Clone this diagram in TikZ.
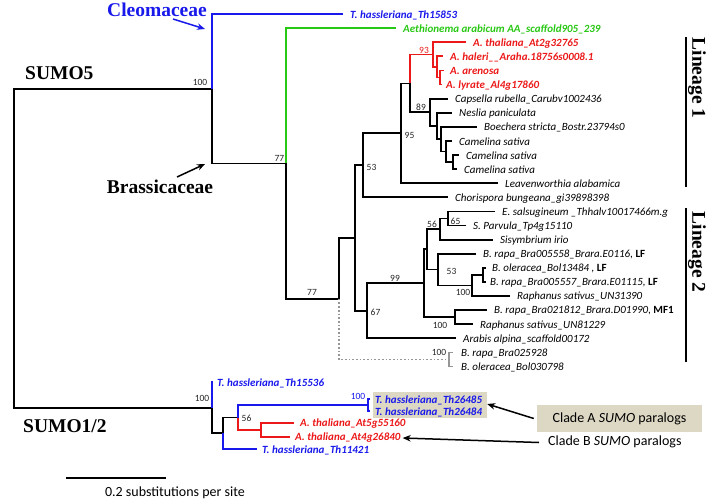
\documentclass[tikz,border=0pt]{standalone}
\usepackage{fontspec}
\setmainfont{Carlito}
\newfontfamily\serifb{Liberation Serif}
\usetikzlibrary{arrows.meta}
\definecolor{myblue}{RGB}{25,25,235}
\definecolor{myred}{RGB}{235,25,25}
\definecolor{mygreen}{RGB}{40,200,20}
\definecolor{mygrey}{RGB}{150,150,150}
\definecolor{boxc}{RGB}{221,216,196}
\begin{document}
\begin{tikzpicture}[x=1pt,y=-1pt,
  br/.style={line width=1.8pt, line join=miter},
  bb/.style={br, myblue},
  rr/.style={br, myred},
  gg/.style={br, mygreen},
  dotg/.style={line width=1.7pt, mygrey, dash pattern=on 1.7pt off 2pt},
  greyb/.style={line width=1.6pt, mygrey, line join=miter},
  lab/.style={anchor=west, inner sep=0pt, font=\fontsize{11}{12}\selectfont\itshape},
  blab/.style={lab, text=myblue, font=\fontsize{11}{12}\selectfont\itshape\bfseries},
  rlab/.style={lab, text=myred, font=\fontsize{11}{12}\selectfont\itshape\bfseries},
  glab/.style={lab, text=mygreen, font=\fontsize{11}{12}\selectfont\itshape\bfseries},
  sup/.style={inner sep=0.5pt, font=\fontsize{9.5}{11}\selectfont, text=black!85},
  big/.style={inner sep=0pt, font=\fontsize{19.5}{22}\selectfont\serifb\bfseries},
  arr/.style={line width=1.5pt, -{Stealth[length=8pt,width=6.5pt]}},
  bar/.style={line width=1.6pt}
]
\useasboundingbox (0,0) rectangle (709,501);

% ---------- leaves (line ends) ----------
\coordinate (l0) at (343,14);
\coordinate (l1) at (396,28.1);
\coordinate (l2) at (466,42.2);
\coordinate (l3) at (443,56.3);
\coordinate (l4) at (444,70.4);
\coordinate (l5) at (442,84.5);
\coordinate (l6) at (448,98.6);
\coordinate (l7) at (452,112.7);
\coordinate (l8) at (477,126.8);
\coordinate (l9) at (452,140.9);
\coordinate (l10) at (459,155);
\coordinate (l11) at (457,169.1);
\coordinate (l12) at (498,183.2);
\coordinate (l13) at (448,197.3);
\coordinate (l14) at (495,211.4);
\coordinate (l15) at (466,225.5);
\coordinate (l16) at (493,239.6);
\coordinate (l17) at (476,253.7);
\coordinate (l18) at (486,267.8);
\coordinate (l19) at (486,281.9);
\coordinate (l20) at (510,296);
\coordinate (l21) at (487,310.1);
\coordinate (l22) at (473,324.2);
\coordinate (l23) at (456,338.3);
\coordinate (l24) at (453,352.4);
\coordinate (l25) at (453,366.5);
% ---------- internal nodes ----------
\coordinate (Z) at (440,77.45);
\coordinate (Y) at (437,66.9);
\coordinate (X) at (433,54.55);
\coordinate (Nc2) at (453,162.05);
\coordinate (Nc) at (446,151.5);
\coordinate (Nb) at (441,139.15);
\coordinate (Nn) at (437,125.9);
\coordinate (N89) at (430,112.25);
\coordinate (NR) at (410,83.4);
\coordinate (N95) at (401,133.3);
\coordinate (N53) at (363,165.3);
\coordinate (N65) at (448,218.45);
\coordinate (N56) at (440,229);
\coordinate (NBo) at (483,274.85);
\coordinate (N100b) at (472,285.4);
\coordinate (N53b) at (438,269.55);
\coordinate (Nq) at (427,249.3);
\coordinate (N100d) at (455,317.15);
\coordinate (N99) at (424,283.2);
\coordinate (N67) at (367,310.75);
\coordinate (NL) at (355,238);
\coordinate (Ng) at (449,359.45);
\coordinate (N77b) at (339,298.7);
\coordinate (B) at (286,163.4);
\coordinate (S5) at (212,88.7);
% bottom
\coordinate (b0) at (213,382);
\coordinate (b1) at (370,399);
\coordinate (b2) at (370,411);
\coordinate (Nblue) at (368,405);
\coordinate (b3) at (294,423);
\coordinate (b4) at (290,437);
\coordinate (Nred) at (261,430);
\coordinate (N56b) at (238,417.5);
\coordinate (b5) at (257,449);
\coordinate (N223) at (223,433.25);
\coordinate (S12) at (212,407.6);
\coordinate (rt) at (14,248.2);

% ---------- branches ----------
\draw[br] (rt) |- (S5);
\draw[br] (rt) |- (S12);
\draw[bb] (S5) |- (l0);
\draw[br] (S5) |- (B);
\draw[gg] (B) |- (l1);
\draw[br] (B) |- (N77b);
\draw[br] (N77b) |- (NL);
\draw[dotg] (N77b) |- (Ng);
\draw[greyb] (Ng) |- (l24);
\draw[greyb] (Ng) |- (l25);
\draw[br] (NL) |- (N53);
\draw[br] (NL) |- (N67);
\draw[br] (N53) |- (N95);
\draw[br] (N53) |- (l13);
\draw[br] (N95) |- (NR);
\draw[br] (N95) |- (l12);
\draw[rr] (NR) |- (X);
\draw[br] (NR) |- (N89);
\draw[rr] (X) |- (l2);
\draw[rr] (X) |- (Y);
\draw[rr] (Y) |- (l3);
\draw[rr] (Y) |- (Z);
\draw[rr] (Z) |- (l4);
\draw[rr] (Z) |- (l5);
\draw[br] (N89) |- (l6);
\draw[br] (N89) |- (Nn);
\draw[br] (Nn) |- (l7);
\draw[br] (Nn) |- (Nb);
\draw[br] (Nb) |- (l8);
\draw[br] (Nb) |- (Nc);
\draw[br] (Nc) |- (l9);
\draw[br] (Nc) |- (Nc2);
\draw[br] (Nc2) |- (l10);
\draw[br] (Nc2) |- (l11);
\draw[br] (N67) |- (N99);
\draw[br] (N67) |- (l23);
\draw[br] (N99) |- (Nq);
\draw[br] (N99) |- (N100d);
\draw[br] (Nq) |- (N56);
\draw[br] (Nq) |- (N53b);
\draw[br] (N56) |- (N65);
\draw[br] (N56) |- (l16);
\draw[br] (N65) |- (l14);
\draw[br] (N65) |- (l15);
\draw[br] (N53b) |- (l17);
\draw[br] (N53b) |- (N100b);
\draw[br] (N100b) |- (NBo);
\draw[br] (N100b) |- (l20);
\draw[br] (NBo) |- (l18);
\draw[br] (NBo) |- (l19);
\draw[br] (N100d) |- (l21);
\draw[br] (N100d) |- (l22);
% bottom clade
\draw[bb] (S12) |- (b0);
\draw[br] (S12) |- (N223);
\draw[br] (N223) |- (N56b);
\draw[bb] (N223) |- (b5);
\draw[bb] (N56b) |- (Nblue);
\draw[rr] (N56b) |- (Nred);
\draw[bb] (Nblue) |- (b1);
\draw[bb] (Nblue) |- (b2);
\draw[rr] (Nred) |- (b3);
\draw[rr] (Nred) |- (b4);

% ---------- leaf labels ----------
\node[blab] (t0) at (350,15) {T. hassleriana\_Th15853};
\node[glab] (t1) at (403,29.1) {Aethionema arabicum AA\_scaffold905\_239};
\node[rlab] (t2) at (473,43.2) {A. thaliana\_At2g32765};
\node[rlab] (t3) at (450,57.3) {A. haleri\_\_Araha.18756s0008.1};
\node[rlab] (t4) at (450,71.4) {A. arenosa};
\node[rlab] (t5) at (446,85.5) {A. lyrate\_Al4g17860};
\node[lab] (t6) at (455,99.6) {Capsella rubella\_Carubv1002436};
\node[lab] (t7) at (459,113.7) {Neslia paniculata};
\node[lab] (t8) at (484,127.8) {Boechera stricta\_Bostr.23794s0};
\node[lab] (t9) at (459,141.9) {Camelina sativa};
\node[lab] (t10) at (466,156) {Camelina sativa};
\node[lab] (t11) at (464,170.1) {Camelina sativa};
\node[lab] (t12) at (505,184.2) {Leavenworthia alabamica};
\node[lab] (t13) at (455,198.3) {Chorispora bungeana\_gi39898398};
\node[lab] (t14) at (502,212.4) {E. salsugineum \_Thhalv10017466m.g};
\node[lab] (t15) at (473,226.5) {S. Parvula\_Tp4g15110};
\node[lab] (t16) at (500,240.6) {Sisymbrium irio};
\node[lab] (t17) at (483,254.7) {B. rapa\_Bra005558\_Brara.E0116, \upshape\bfseries LF};
\node[lab] (t18) at (492,268.8) {B. oleracea\_Bol13484 , \upshape\bfseries LF};
\node[lab] (t19) at (490,282.9) {B. rapa\_Bra005557\_Brara.E01115, \upshape\bfseries LF};
\node[lab] (t20) at (517,297) {Raphanus sativus\_UN31390};
\node[lab] (t21) at (494,311.1) {B. rapa\_Bra021812\_Brara.D01990, \upshape\bfseries MF1};
\node[lab] (t22) at (480,325.2) {Raphanus sativus\_UN81229};
\node[lab] (t23) at (463,339.3) {Arabis alpina\_scaffold00172};
\node[lab] (t24) at (461,353.4) {B. rapa\_Bra025928};
\node[lab] (t25) at (461,367.5) {B. oleracea\_Bol030798};

% bottom labels
\node[fill=boxc, minimum width=114pt, minimum height=26pt, inner sep=0pt] (thbox) at (430,405) {};
\node[blab] (tb0) at (217,383) {T. hassleriana\_Th15536};
\node[blab] (tb1) at (375,400) {T. hassleriana\_Th26485};
\node[blab] (tb2) at (375,412) {T. hassleriana\_Th26484};
\node[rlab] (tb3) at (300,424) {A. thaliana\_At5g55160};
\node[rlab] (tb4) at (295,438) {A. thaliana\_At4g26840};
\node[blab] (tb5) at (262,450) {T. hassleriana\_Th11421};

% ---------- support values ----------
\node[sup] (s1) at (200,82) {100};
\node[sup, anchor=south east] (s2) at (285,162) {77};
\node[sup] (s3) at (312,292) {77};
\node[sup, anchor=west] (s4) at (366,167.5) {53};
\node[sup, anchor=west] (s5) at (404,135.5) {95};
\node[sup, anchor=south, text=myred] (s6) at (424,54) {93};
\node[sup, anchor=south] (s7) at (421,111.5) {89};
\node[sup, anchor=south] (s8) at (432,228) {56};
\node[sup, anchor=south west] (s9) at (450,225) {65};
\node[sup, anchor=south] (s10) at (395,282.5) {99};
\node[sup, anchor=west] (s11) at (446,271) {53};
\node[sup, anchor=east] (s12) at (471,292) {100};
\node[sup, anchor=west] (s13) at (370,312.5) {67};
\node[sup] (s14) at (440,325) {100};
\node[sup] (s15) at (439,352) {100};
\node[sup] (s16) at (202,398) {100};
\node[sup, text=myblue] (s17) at (358,396) {100};
\node[sup, anchor=west] (s18) at (241,418) {56};

% ---------- group labels ----------
\node[big, text=myblue, anchor=east] (cleo) at (207,10) {Cleomaceae};
\coordinate (cleoS) at (173,19);
\coordinate (cleoT) at (205,29);
\draw[arr, myblue] (cleoS) -- (cleoT);
\node[big, anchor=west] (sumo5) at (25,73) {SUMO5};
\node[big] (brass) at (160,187) {Brassicaceae};
\coordinate (brS) at (177,177);
\coordinate (brT) at (205,164);
\draw[arr] (brS) -- (brT);
\node[big, anchor=west] (sumo12) at (23,426) {SUMO1/2};

\coordinate (L1a) at (686,37);
\coordinate (L1b) at (686,187);
\draw[bar] (L1a) -- (L1b);
\node[big, rotate=-90] (lin1) at (697,78) {Lineage 1};
\coordinate (L2a) at (686,208);
\coordinate (L2b) at (686,362);
\draw[bar] (L2a) -- (L2b);
\node[big, rotate=-90] (lin2) at (697,252) {Lineage 2};

% clade boxes
\node[fill=boxc, minimum width=165pt, minimum height=27pt, inner sep=0pt, font=\fontsize{14}{16}\selectfont] (cladeA) at (619.5,418.5) {Clade A \textit{SUMO} paralogs};
\node[inner sep=0pt, anchor=west, font=\fontsize{14}{16}\selectfont] (cladeB) at (548,442) {Clade B \textit{SUMO} paralogs};
\draw[arr] ([xshift=-3pt]cladeA.west) -- ([yshift=1pt]thbox.east);
\draw[arr] ([xshift=-9pt,yshift=-0.5pt]cladeB.west) -- ([xshift=2pt]tb4.east);

% scale bar
\coordinate (sc1) at (66,478);
\coordinate (sc2) at (166,478);
\draw[bar, line width=1.5pt] (sc1) -- (sc2);
\node[inner sep=0pt, font=\fontsize{14}{16}\selectfont] (sclab) at (175,493) {0.2 substitutions per site};
\end{tikzpicture}
\end{document}
